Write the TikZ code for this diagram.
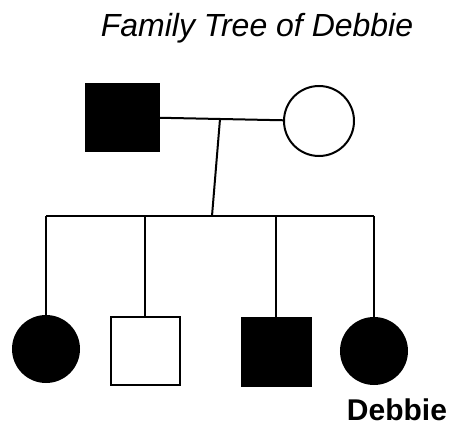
\documentclass[tikz,border=0pt]{standalone}
\usepackage{fontspec}
\setmainfont{Liberation Sans}
\usepackage{tikz}
\tikzset{
	person/.style = {
		draw,
		line width=2pt,
		inner sep=0pt
	},
	male/.style = {
		person,
		shape=rectangle,
		minimum width=69pt,
		minimum height=68pt
	},
	female/.style = {
		person,
		shape=circle,
		minimum size=66pt
	},
	affected/.style = {fill=black},
	line/.style = {line width=2pt},
	label/.style = {draw=none}
}

\begin{document}
\begin{tikzpicture}[x=1pt,y=-1pt]
				\useasboundingbox (0,0) rectangle (451,431);
				\node[label] (title) at (257,28) {\itshape\fontsize{32}{38}\selectfont Family Tree of Debbie};
				\node[male,affected,minimum width=73pt,minimum height=67pt] (father) at (122,117) {};
				\node[female,minimum width=70pt,minimum height=64pt] (mother) at (319,121) {};
				\node[female,affected] (sister) at (46,349) {};
				\node[male] (brother) at (145,351) {};
				\node[male,affected] (son) at (276,352) {};
				\node[female,affected] (debbie) at (374,351) {};
				\node[label] (name) at (397,410) {\bfseries\fontsize{30}{36}\selectfont Debbie};
				\coordinate (mid) at (220,119);
				\coordinate (sib) at (212,216);
				\draw[line] (father) -- (mother);
				\draw[line] (mid) -- (sib);
				\draw[line] (sister |- sib) -- (debbie |- sib);
				\draw[line] (sister |- sib) -- (sister);
				\draw[line] (brother |- sib) -- (brother);
				\draw[line] (son |- sib) -- (son);
				\draw[line] (debbie |- sib) -- (debbie);
			\end{tikzpicture}
\end{document}
